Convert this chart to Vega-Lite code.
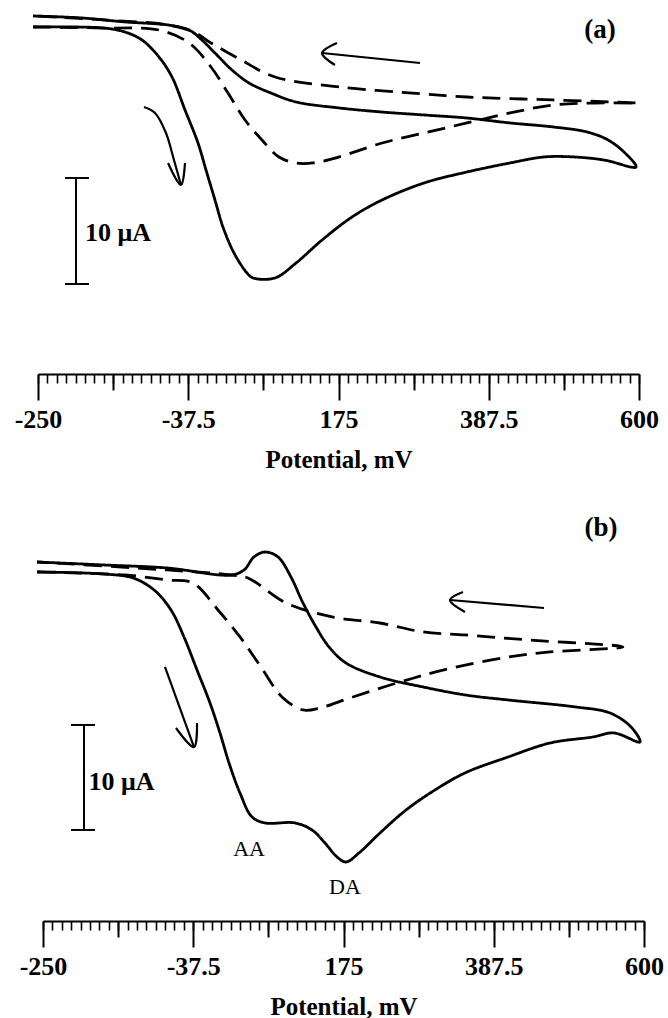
{
  "$schema": "https://vega.github.io/schema/vega-lite/v6.json",
  "padding": {"left": 14, "top": 0, "right": 5, "bottom": 0},
  "spacing": 100,
  "bounds": "flush",
  "background": "white",
  "config": {"view": {"stroke": null}, "axis": {"grid": false}},
  "datasets": {
    "curves": [
      {"panel":"a","series":"solid","i":1,"mV":-257.1,"uA":0},
      {"panel":"a","series":"solid","i":2,"mV":-156.7,"uA":-0.1},
      {"panel":"a","series":"solid","i":3,"mV":-127.0,"uA":-0.48},
      {"panel":"a","series":"solid","i":4,"mV":-102.9,"uA":-1.24},
      {"panel":"a","series":"solid","i":5,"mV":-78.9,"uA":-2.86},
      {"panel":"a","series":"solid","i":6,"mV":-60.5,"uA":-4.76},
      {"panel":"a","series":"solid","i":7,"mV":-42.1,"uA":-7.9},
      {"panel":"a","series":"solid","i":8,"mV":-23.7,"uA":-11.05},
      {"panel":"a","series":"solid","i":9,"mV":-12.4,"uA":-13.62},
      {"panel":"a","series":"solid","i":10,"mV":0.3,"uA":-16.48},
      {"panel":"a","series":"solid","i":11,"mV":11.6,"uA":-19.05},
      {"panel":"a","series":"solid","i":12,"mV":27.2,"uA":-21.52},
      {"panel":"a","series":"solid","i":13,"mV":45.6,"uA":-23.43},
      {"panel":"a","series":"solid","i":14,"mV":54.1,"uA":-23.9},
      {"panel":"a","series":"solid","i":15,"mV":85.2,"uA":-23.9},
      {"panel":"a","series":"solid","i":16,"mV":114.9,"uA":-22.48},
      {"panel":"a","series":"solid","i":17,"mV":151.7,"uA":-20.29},
      {"panel":"a","series":"solid","i":18,"mV":194.1,"uA":-18.1},
      {"panel":"a","series":"solid","i":19,"mV":236.5,"uA":-16.48},
      {"panel":"a","series":"solid","i":20,"mV":295.9,"uA":-14.86},
      {"panel":"a","series":"solid","i":21,"mV":356.7,"uA":-13.81},
      {"panel":"a","series":"solid","i":22,"mV":417.6,"uA":-12.95},
      {"panel":"a","series":"solid","i":23,"mV":465.6,"uA":-12.38},
      {"panel":"a","series":"solid","i":24,"mV":508.1,"uA":-12.38},
      {"panel":"a","series":"solid","i":25,"mV":550.5,"uA":-12.67},
      {"panel":"a","series":"solid","i":26,"mV":595.8,"uA":-13.33},
      {"panel":"a","series":"solid","i":27,"mV":580.2,"uA":-12.0},
      {"panel":"a","series":"solid","i":28,"mV":556.2,"uA":-10.76},
      {"panel":"a","series":"solid","i":29,"mV":526.4,"uA":-10.0},
      {"panel":"a","series":"solid","i":30,"mV":478.4,"uA":-9.52},
      {"panel":"a","series":"solid","i":31,"mV":417.6,"uA":-9.14},
      {"panel":"a","series":"solid","i":32,"mV":356.7,"uA":-8.67},
      {"panel":"a","series":"solid","i":33,"mV":295.9,"uA":-8.38},
      {"panel":"a","series":"solid","i":34,"mV":236.5,"uA":-8.1},
      {"panel":"a","series":"solid","i":35,"mV":175.7,"uA":-7.71},
      {"panel":"a","series":"solid","i":36,"mV":114.9,"uA":-7.14},
      {"panel":"a","series":"solid","i":37,"mV":79.5,"uA":-6.29},
      {"panel":"a","series":"solid","i":38,"mV":48.4,"uA":-5.33},
      {"panel":"a","series":"solid","i":39,"mV":24.4,"uA":-4.1},
      {"panel":"a","series":"solid","i":40,"mV":0.3,"uA":-2.48},
      {"panel":"a","series":"solid","i":41,"mV":-18.1,"uA":-1.24},
      {"panel":"a","series":"solid","i":42,"mV":-36.4,"uA":-0.29},
      {"panel":"a","series":"solid","i":43,"mV":-66.1,"uA":0.19},
      {"panel":"a","series":"solid","i":44,"mV":-127.0,"uA":0.48},
      {"panel":"a","series":"solid","i":45,"mV":-187.8,"uA":0.86},
      {"panel":"a","series":"solid","i":46,"mV":-257.1,"uA":1.05},
      {"panel":"a","series":"dashed","i":1,"mV":-257.1,"uA":0},
      {"panel":"a","series":"dashed","i":2,"mV":-156.7,"uA":-0.1},
      {"panel":"a","series":"dashed","i":3,"mV":-78.9,"uA":-0.29},
      {"panel":"a","series":"dashed","i":4,"mV":-36.4,"uA":-1.52},
      {"panel":"a","series":"dashed","i":5,"mV":-5.3,"uA":-3.81},
      {"panel":"a","series":"dashed","i":6,"mV":18.7,"uA":-6.29},
      {"panel":"a","series":"dashed","i":7,"mV":42.8,"uA":-8.86},
      {"panel":"a","series":"dashed","i":8,"mV":66.8,"uA":-10.76},
      {"panel":"a","series":"dashed","i":9,"mV":90.8,"uA":-12.38},
      {"panel":"a","series":"dashed","i":10,"mV":114.9,"uA":-12.95},
      {"panel":"a","series":"dashed","i":11,"mV":138.9,"uA":-12.95},
      {"panel":"a","series":"dashed","i":12,"mV":175.7,"uA":-12.38},
      {"panel":"a","series":"dashed","i":13,"mV":236.5,"uA":-11.05},
      {"panel":"a","series":"dashed","i":14,"mV":295.9,"uA":-10.1},
      {"panel":"a","series":"dashed","i":15,"mV":356.7,"uA":-9.14},
      {"panel":"a","series":"dashed","i":16,"mV":417.6,"uA":-8.19},
      {"panel":"a","series":"dashed","i":17,"mV":478.4,"uA":-7.43},
      {"panel":"a","series":"dashed","i":18,"mV":537.8,"uA":-7.24},
      {"panel":"a","series":"dashed","i":19,"mV":598.6,"uA":-7.24},
      {"panel":"a","series":"dashed","i":20,"mV":478.4,"uA":-6.95},
      {"panel":"a","series":"dashed","i":21,"mV":356.7,"uA":-6.67},
      {"panel":"a","series":"dashed","i":22,"mV":295.9,"uA":-6.38},
      {"panel":"a","series":"dashed","i":23,"mV":175.7,"uA":-5.71},
      {"panel":"a","series":"dashed","i":24,"mV":85.2,"uA":-4.76},
      {"panel":"a","series":"dashed","i":25,"mV":37.1,"uA":-3.14},
      {"panel":"a","series":"dashed","i":26,"mV":-5.3,"uA":-1.52},
      {"panel":"a","series":"dashed","i":27,"mV":-29.4,"uA":-0.48},
      {"panel":"a","series":"dashed","i":28,"mV":-66.1,"uA":0.19},
      {"panel":"a","series":"dashed","i":29,"mV":-156.7,"uA":0.67},
      {"panel":"a","series":"dashed","i":30,"mV":-257.1,"uA":1.05},
      {"panel":"b","series":"solid","i":1,"mV":-258.5,"uA":0},
      {"panel":"b","series":"solid","i":2,"mV":-165.1,"uA":-0.19},
      {"panel":"b","series":"solid","i":3,"mV":-122.7,"uA":-0.57},
      {"panel":"b","series":"solid","i":4,"mV":-93.0,"uA":-1.71},
      {"panel":"b","series":"solid","i":5,"mV":-69.0,"uA":-3.62},
      {"panel":"b","series":"solid","i":6,"mV":-50.6,"uA":-6.19},
      {"panel":"b","series":"solid","i":7,"mV":-32.2,"uA":-9.33},
      {"panel":"b","series":"solid","i":8,"mV":-13.8,"uA":-12.48},
      {"panel":"b","series":"solid","i":9,"mV":0.3,"uA":-15.33},
      {"panel":"b","series":"solid","i":10,"mV":13.1,"uA":-18.19},
      {"panel":"b","series":"solid","i":11,"mV":28.6,"uA":-21.05},
      {"panel":"b","series":"solid","i":12,"mV":45.6,"uA":-23.33},
      {"panel":"b","series":"solid","i":13,"mV":64.0,"uA":-23.9},
      {"panel":"b","series":"solid","i":14,"mV":106.4,"uA":-23.9},
      {"panel":"b","series":"solid","i":15,"mV":130.4,"uA":-24.57},
      {"panel":"b","series":"solid","i":16,"mV":148.8,"uA":-25.81},
      {"panel":"b","series":"solid","i":17,"mV":165.8,"uA":-27.14},
      {"panel":"b","series":"solid","i":18,"mV":178.5,"uA":-27.62},
      {"panel":"b","series":"solid","i":19,"mV":196.9,"uA":-26.76},
      {"panel":"b","series":"solid","i":20,"mV":226.6,"uA":-24.86},
      {"panel":"b","series":"solid","i":21,"mV":263.4,"uA":-22.67},
      {"panel":"b","series":"solid","i":22,"mV":304.4,"uA":-20.76},
      {"panel":"b","series":"solid","i":23,"mV":346.8,"uA":-19.14},
      {"panel":"b","series":"solid","i":24,"mV":407.7,"uA":-17.62},
      {"panel":"b","series":"solid","i":25,"mV":467.1,"uA":-16.29},
      {"panel":"b","series":"solid","i":26,"mV":527.9,"uA":-15.71},
      {"panel":"b","series":"solid","i":27,"mV":557.6,"uA":-15.33},
      {"panel":"b","series":"solid","i":28,"mV":594.3,"uA":-16.19},
      {"panel":"b","series":"solid","i":29,"mV":581.6,"uA":-14.76},
      {"panel":"b","series":"solid","i":30,"mV":551.9,"uA":-13.43},
      {"panel":"b","series":"solid","i":31,"mV":503.8,"uA":-12.86},
      {"panel":"b","series":"solid","i":32,"mV":407.7,"uA":-12.19},
      {"panel":"b","series":"solid","i":33,"mV":346.8,"uA":-11.71},
      {"panel":"b","series":"solid","i":34,"mV":287.4,"uA":-10.95},
      {"panel":"b","series":"solid","i":35,"mV":226.6,"uA":-10.0},
      {"panel":"b","series":"solid","i":36,"mV":178.5,"uA":-8.67},
      {"panel":"b","series":"solid","i":37,"mV":154.5,"uA":-7.14},
      {"panel":"b","series":"solid","i":38,"mV":136.1,"uA":-5.24},
      {"panel":"b","series":"solid","i":39,"mV":117.7,"uA":-2.95},
      {"panel":"b","series":"solid","i":40,"mV":100.7,"uA":-0.48},
      {"panel":"b","series":"solid","i":41,"mV":82.4,"uA":1.43},
      {"panel":"b","series":"solid","i":42,"mV":64.0,"uA":1.9},
      {"panel":"b","series":"solid","i":43,"mV":48.4,"uA":1.43},
      {"panel":"b","series":"solid","i":44,"mV":34.3,"uA":0.19},
      {"panel":"b","series":"solid","i":45,"mV":15.9,"uA":-0.29},
      {"panel":"b","series":"solid","i":46,"mV":-74.6,"uA":0.38},
      {"panel":"b","series":"solid","i":47,"mV":-165.1,"uA":0.67},
      {"panel":"b","series":"solid","i":48,"mV":-258.5,"uA":0.95},
      {"panel":"b","series":"dashed","i":1,"mV":-258.5,"uA":0},
      {"panel":"b","series":"dashed","i":2,"mV":-134.0,"uA":-0.29},
      {"panel":"b","series":"dashed","i":3,"mV":-74.6,"uA":-0.76},
      {"panel":"b","series":"dashed","i":4,"mV":-37.9,"uA":-1.05},
      {"panel":"b","series":"dashed","i":5,"mV":-2.5,"uA":-3.62},
      {"panel":"b","series":"dashed","i":6,"mV":28.6,"uA":-6.19},
      {"panel":"b","series":"dashed","i":7,"mV":58.3,"uA":-9.05},
      {"panel":"b","series":"dashed","i":8,"mV":88.0,"uA":-11.9},
      {"panel":"b","series":"dashed","i":9,"mV":117.7,"uA":-13.14},
      {"panel":"b","series":"dashed","i":10,"mV":141.8,"uA":-12.95},
      {"panel":"b","series":"dashed","i":11,"mV":184.2,"uA":-12.0},
      {"panel":"b","series":"dashed","i":12,"mV":250.7,"uA":-10.57},
      {"panel":"b","series":"dashed","i":13,"mV":317.1,"uA":-9.33},
      {"panel":"b","series":"dashed","i":14,"mV":407.7,"uA":-8.1},
      {"panel":"b","series":"dashed","i":15,"mV":467.1,"uA":-7.62},
      {"panel":"b","series":"dashed","i":16,"mV":570.3,"uA":-7.14},
      {"panel":"b","series":"dashed","i":17,"mV":437.4,"uA":-6.48},
      {"panel":"b","series":"dashed","i":18,"mV":346.8,"uA":-6.0},
      {"panel":"b","series":"dashed","i":19,"mV":287.4,"uA":-5.71},
      {"panel":"b","series":"dashed","i":20,"mV":226.6,"uA":-4.86},
      {"panel":"b","series":"dashed","i":21,"mV":160.2,"uA":-4.29},
      {"panel":"b","series":"dashed","i":22,"mV":93.7,"uA":-2.95},
      {"panel":"b","series":"dashed","i":23,"mV":39.9,"uA":-0.57},
      {"panel":"b","series":"dashed","i":24,"mV":15.9,"uA":-0.29},
      {"panel":"b","series":"dashed","i":25,"mV":-74.6,"uA":0.19},
      {"panel":"b","series":"dashed","i":26,"mV":-258.5,"uA":0.95}
    ],
    "arrows": [
      {"panel":"a","part":"down-shaft","i":1,"mV":-100.1,"uA":-7.62},
      {"panel":"a","part":"down-shaft","i":2,"mV":-84.5,"uA":-8.19},
      {"panel":"a","part":"down-shaft","i":3,"mV":-69.0,"uA":-10.1},
      {"panel":"a","part":"down-shaft","i":4,"mV":-57.7,"uA":-12.67},
      {"panel":"a","part":"down-shaft","i":5,"mV":-47.8,"uA":-15.05},
      {"panel":"a","part":"down-head","i":1,"mV":-66.1,"uA":-12.95},
      {"panel":"a","part":"down-head","i":2,"mV":-47.8,"uA":-15.05},
      {"panel":"a","part":"down-head","i":3,"mV":-42.1,"uA":-12.95},
      {"panel":"a","part":"left-shaft","i":1,"mV":290.3,"uA":-3.43},
      {"panel":"a","part":"left-shaft","i":2,"mV":151.7,"uA":-2.48},
      {"panel":"a","part":"left-head","i":1,"mV":172.9,"uA":-1.52},
      {"panel":"a","part":"left-head","i":2,"mV":151.7,"uA":-2.48},
      {"panel":"a","part":"left-head","i":3,"mV":170.0,"uA":-3.62},
      {"panel":"b","part":"down-shaft","i":1,"mV":-77.5,"uA":-9.05},
      {"panel":"b","part":"down-shaft","i":2,"mV":-36.4,"uA":-16.67},
      {"panel":"b","part":"down-head","i":1,"mV":-61.9,"uA":-14.86},
      {"panel":"b","part":"down-head","i":2,"mV":-36.4,"uA":-16.67},
      {"panel":"b","part":"down-head","i":3,"mV":-32.2,"uA":-14.38},
      {"panel":"b","part":"left-shaft","i":1,"mV":458.6,"uA":-3.43},
      {"panel":"b","part":"left-shaft","i":2,"mV":325.6,"uA":-2.67},
      {"panel":"b","part":"left-head","i":1,"mV":344.0,"uA":-1.9},
      {"panel":"b","part":"left-head","i":2,"mV":325.6,"uA":-2.67},
      {"panel":"b","part":"left-head","i":3,"mV":346.8,"uA":-3.81}
    ],
    "bars": [
      {"panel":"a","mV":-196.3,"mV2":-196.3,"uA":-14.38,"uA2":-24.48},
      {"panel":"a","mV":-211.8,"mV2":-177.9,"uA":-14.38,"uA2":-14.38},
      {"panel":"a","mV":-211.8,"mV2":-177.9,"uA":-24.48,"uA2":-24.48},
      {"panel":"b","mV":-192.0,"mV2":-192.0,"uA":-14.57,"uA2":-24.57},
      {"panel":"b","mV":-210.4,"mV2":-176.5,"uA":-14.57,"uA2":-14.57},
      {"panel":"b","mV":-210.4,"mV2":-176.5,"uA":-24.57,"uA2":-24.57}
    ],
    "notes": [
      {"panel":"a","role":"tag","text":"(a)","mV":544.8,"uA":-0.29},
      {"panel":"a","role":"scale","text":"10 μA","mV":-183.5,"uA":-19.62},
      {"panel":"b","role":"tag","text":"(b)","mV":539.2,"uA":4.19},
      {"panel":"b","role":"scale","text":"10 μA","mV":-185.6,"uA":-20.0},
      {"panel":"b","role":"peak","text":"AA","mV":41.4,"uA":-26.38},
      {"panel":"b","role":"peak","text":"DA","mV":177.1,"uA":-30.0}
    ]
  },
  "vconcat": [
    {
      "width": 601,
      "height": 374,
      "resolve": {"axis": {"x": "independent"}},
      "layer": [
        {
          "data": {"name": "curves"},
          "transform": [{"filter": "datum.panel === 'a'"}],
          "mark": {"type": "line", "interpolate": "catmull-rom", "strokeWidth": 2.8, "color": "black"},
          "encoding": {
            "x": {"field": "mV", "type": "quantitative", "scale": {"domain": [-250, 600], "nice": false, "zero": false},
              "axis": {"orient": "bottom", "values": [-250, -37.5, 175, 387.5, 600], "labelExpr": "'' + datum.value",
                "tickSize": 26, "tickWidth": 2, "tickColor": "black", "domainColor": "black", "domainWidth": 2,
                "labelFont": "Liberation Serif", "labelFontWeight": "bold", "labelFontSize": 26, "labelColor": "black",
                "labelPadding": 6, "labelFlush": false, "labelOverlap": false,
                "title": "Potential, mV", "titleFont": "Liberation Serif", "titleFontWeight": "bold", "titleFontSize": 25,
                "titleColor": "black", "titlePadding": 15}},
            "y": {"field": "uA", "type": "quantitative", "scale": {"domain": [-33.05, 2.57], "nice": false, "zero": false}, "axis": null},
            "detail": {"field": "series"},
            "order": {"field": "i", "type": "quantitative"},
            "strokeDash": {"field": "series", "type": "nominal", "scale": {"domain": ["solid", "dashed"], "range": [[1, 0], [18, 9]]}, "legend": null}
          }
        },
        {
          "data": {"name": "arrows"},
          "transform": [{"filter": "datum.panel === 'a'"}],
          "mark": {"type": "line", "interpolate": "catmull-rom", "strokeWidth": 2.2, "color": "black"},
          "encoding": {
            "x": {"field": "mV", "type": "quantitative", "scale": {"domain": [-250, 600], "nice": false, "zero": false},
              "axis": {"orient": "bottom", "values": [-143.75, 68.75, 281.25, 493.75], "tickSize": 16, "tickWidth": 2, "tickColor": "black",
                "labels": false, "domain": false, "title": null}},
            "y": {"field": "uA", "type": "quantitative", "scale": {"domain": [-33.05, 2.57], "nice": false, "zero": false}, "axis": null},
            "detail": {"field": "part"},
            "order": {"field": "i", "type": "quantitative"}
          }
        },
        {
          "data": {"name": "bars"},
          "transform": [{"filter": "datum.panel === 'a'"}],
          "mark": {"type": "rule", "strokeWidth": 2, "color": "black"},
          "encoding": {
            "x": {"field": "mV", "type": "quantitative", "scale": {"domain": [-250, 600], "nice": false, "zero": false},
              "axis": {"orient": "bottom", "values": [-250,-236.71875,-223.4375,-210.15625,-196.875,-183.59375,-170.3125,-157.03125,-143.75,-130.46875,-117.1875,-103.90625,-90.625,-77.34375,-64.0625,-50.78125,-37.5,-24.21875,-10.9375,2.34375,15.625,28.90625,42.1875,55.46875,68.75,82.03125,95.3125,108.59375,121.875,135.15625,148.4375,161.71875,175,188.28125,201.5625,214.84375,228.125,241.40625,254.6875,267.96875,281.25,294.53125,307.8125,321.09375,334.375,347.65625,360.9375,374.21875,387.5,400.78125,414.0625,427.34375,440.625,453.90625,467.1875,480.46875,493.75,507.03125,520.3125,533.59375,546.875,560.15625,573.4375,586.71875,600],
                "tickSize": 9, "tickWidth": 1.6, "tickColor": "black", "labels": false, "domain": false, "title": null}},
            "x2": {"field": "mV2"},
            "y": {"field": "uA", "type": "quantitative", "scale": {"domain": [-33.05, 2.57], "nice": false, "zero": false}, "axis": null},
            "y2": {"field": "uA2"}
          }
        },
        {
          "data": {"name": "notes"},
          "transform": [{"filter": "datum.panel === 'a' && datum.role === 'tag'"}],
          "mark": {"type": "text", "font": "Liberation Serif", "fontWeight": "bold", "fontSize": 27, "color": "black", "align": "center", "baseline": "middle"},
          "encoding": {
            "x": {"field": "mV", "type": "quantitative", "scale": {"domain": [-250, 600], "nice": false, "zero": false}, "axis": null},
            "y": {"field": "uA", "type": "quantitative", "scale": {"domain": [-33.05, 2.57], "nice": false, "zero": false}, "axis": null},
            "text": {"field": "text"}
          }
        },
        {
          "data": {"name": "notes"},
          "transform": [{"filter": "datum.panel === 'a' && datum.role === 'scale'"}],
          "mark": {"type": "text", "font": "Liberation Serif", "fontWeight": "bold", "fontSize": 26, "color": "black", "align": "left", "baseline": "middle"},
          "encoding": {
            "x": {"field": "mV", "type": "quantitative", "scale": {"domain": [-250, 600], "nice": false, "zero": false}, "axis": null},
            "y": {"field": "uA", "type": "quantitative", "scale": {"domain": [-33.05, 2.57], "nice": false, "zero": false}, "axis": null},
            "text": {"field": "text"}
          }
        }
      ]
    },
    {
      "width": 606,
      "height": 447,
      "resolve": {"axis": {"x": "independent"}},
      "layer": [
        {
          "data": {"name": "curves"},
          "transform": [{"filter": "datum.panel === 'b'"}],
          "mark": {"type": "line", "interpolate": "catmull-rom", "strokeWidth": 2.8, "color": "black"},
          "encoding": {
            "x": {"field": "mV", "type": "quantitative", "scale": {"domain": [-250, 600], "range": [5, 606], "nice": false, "zero": false},
              "axis": {"orient": "bottom", "values": [-250, -37.5, 175, 387.5, 600], "labelExpr": "'' + datum.value",
                "tickSize": 26, "tickWidth": 2, "tickColor": "black", "domainColor": "black", "domainWidth": 2,
                "labelFont": "Liberation Serif", "labelFontWeight": "bold", "labelFontSize": 26, "labelColor": "black",
                "labelPadding": 6, "labelFlush": false, "labelOverlap": false,
                "title": "Potential, mV", "titleFont": "Liberation Serif", "titleFontWeight": "bold", "titleFontSize": 25,
                "titleColor": "black", "titlePadding": 15}},
            "y": {"field": "uA", "type": "quantitative", "scale": {"domain": [-33.24, 9.33], "nice": false, "zero": false}, "axis": null},
            "detail": {"field": "series"},
            "order": {"field": "i", "type": "quantitative"},
            "strokeDash": {"field": "series", "type": "nominal", "scale": {"domain": ["solid", "dashed"], "range": [[1, 0], [18, 9]]}, "legend": null}
          }
        },
        {
          "data": {"name": "arrows"},
          "transform": [{"filter": "datum.panel === 'b'"}],
          "mark": {"type": "line", "interpolate": "catmull-rom", "strokeWidth": 2.2, "color": "black"},
          "encoding": {
            "x": {"field": "mV", "type": "quantitative", "scale": {"domain": [-250, 600], "range": [5, 606], "nice": false, "zero": false},
              "axis": {"orient": "bottom", "values": [-143.75, 68.75, 281.25, 493.75], "tickSize": 16, "tickWidth": 2, "tickColor": "black",
                "labels": false, "domain": false, "title": null}},
            "y": {"field": "uA", "type": "quantitative", "scale": {"domain": [-33.24, 9.33], "nice": false, "zero": false}, "axis": null},
            "detail": {"field": "part"},
            "order": {"field": "i", "type": "quantitative"}
          }
        },
        {
          "data": {"name": "bars"},
          "transform": [{"filter": "datum.panel === 'b'"}],
          "mark": {"type": "rule", "strokeWidth": 2, "color": "black"},
          "encoding": {
            "x": {"field": "mV", "type": "quantitative", "scale": {"domain": [-250, 600], "range": [5, 606], "nice": false, "zero": false},
              "axis": {"orient": "bottom", "values": [-250,-236.71875,-223.4375,-210.15625,-196.875,-183.59375,-170.3125,-157.03125,-143.75,-130.46875,-117.1875,-103.90625,-90.625,-77.34375,-64.0625,-50.78125,-37.5,-24.21875,-10.9375,2.34375,15.625,28.90625,42.1875,55.46875,68.75,82.03125,95.3125,108.59375,121.875,135.15625,148.4375,161.71875,175,188.28125,201.5625,214.84375,228.125,241.40625,254.6875,267.96875,281.25,294.53125,307.8125,321.09375,334.375,347.65625,360.9375,374.21875,387.5,400.78125,414.0625,427.34375,440.625,453.90625,467.1875,480.46875,493.75,507.03125,520.3125,533.59375,546.875,560.15625,573.4375,586.71875,600],
                "tickSize": 9, "tickWidth": 1.6, "tickColor": "black", "labels": false, "domain": false, "title": null}},
            "x2": {"field": "mV2"},
            "y": {"field": "uA", "type": "quantitative", "scale": {"domain": [-33.24, 9.33], "nice": false, "zero": false}, "axis": null},
            "y2": {"field": "uA2"}
          }
        },
        {
          "data": {"name": "notes"},
          "transform": [{"filter": "datum.panel === 'b' && datum.role === 'tag'"}],
          "mark": {"type": "text", "font": "Liberation Serif", "fontWeight": "bold", "fontSize": 27, "color": "black", "align": "center", "baseline": "middle"},
          "encoding": {
            "x": {"field": "mV", "type": "quantitative", "scale": {"domain": [-250, 600], "range": [5, 606], "nice": false, "zero": false}, "axis": null},
            "y": {"field": "uA", "type": "quantitative", "scale": {"domain": [-33.24, 9.33], "nice": false, "zero": false}, "axis": null},
            "text": {"field": "text"}
          }
        },
        {
          "data": {"name": "notes"},
          "transform": [{"filter": "datum.panel === 'b' && datum.role === 'scale'"}],
          "mark": {"type": "text", "font": "Liberation Serif", "fontWeight": "bold", "fontSize": 26, "color": "black", "align": "left", "baseline": "middle"},
          "encoding": {
            "x": {"field": "mV", "type": "quantitative", "scale": {"domain": [-250, 600], "range": [5, 606], "nice": false, "zero": false}, "axis": null},
            "y": {"field": "uA", "type": "quantitative", "scale": {"domain": [-33.24, 9.33], "nice": false, "zero": false}, "axis": null},
            "text": {"field": "text"}
          }
        },
        {
          "data": {"name": "notes"},
          "transform": [{"filter": "datum.panel === 'b' && datum.role === 'peak'"}],
          "mark": {"type": "text", "font": "Liberation Serif", "fontSize": 22, "color": "black", "align": "center", "baseline": "middle"},
          "encoding": {
            "x": {"field": "mV", "type": "quantitative", "scale": {"domain": [-250, 600], "range": [5, 606], "nice": false, "zero": false}, "axis": null},
            "y": {"field": "uA", "type": "quantitative", "scale": {"domain": [-33.24, 9.33], "nice": false, "zero": false}, "axis": null},
            "text": {"field": "text"}
          }
        }
      ]
    }
  ]
}
